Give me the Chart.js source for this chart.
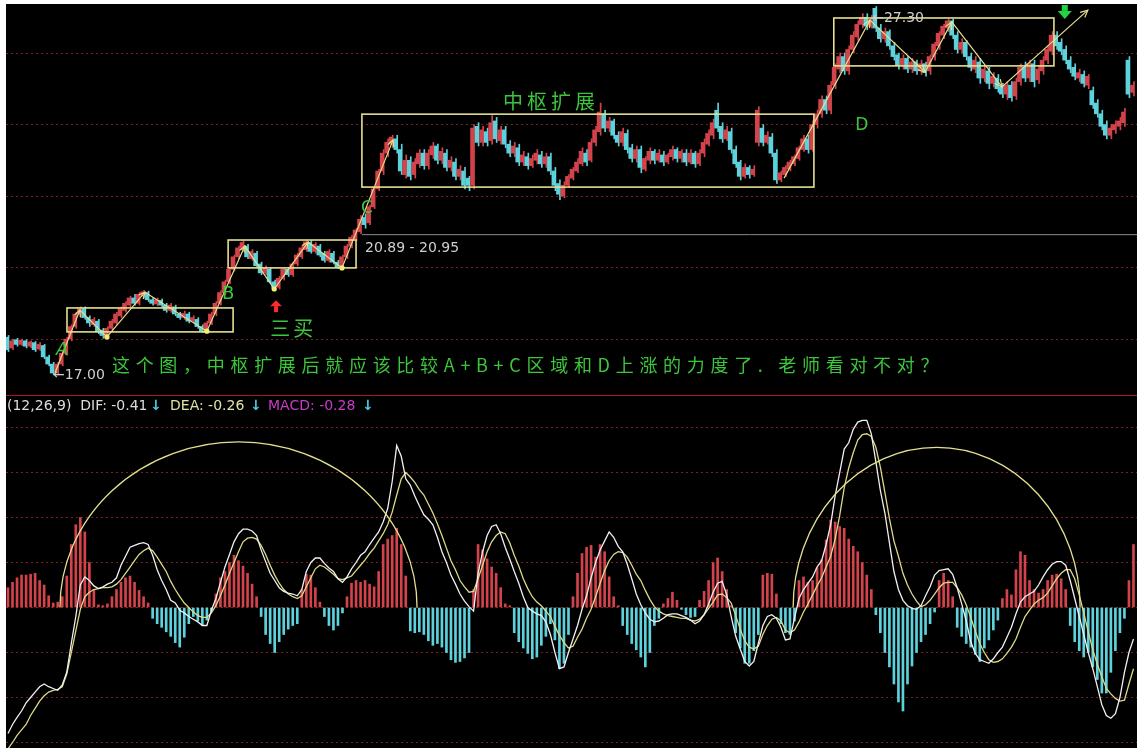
<!DOCTYPE html>
<html>
<head>
<meta charset="utf-8">
<script src="https://cdn.jsdelivr.net/npm/chart.js@4.4.0/dist/chart.umd.min.js"></script>
<style>
  html, body { margin: 0; padding: 0; background: #fff; }
  #frame { position: absolute; left: 6px; top: 4px; width: 1131px; height: 744px; background: #000; overflow: hidden; }
  #priceChart { position: absolute; left: 0; top: 0; }
  #sep { position: absolute; left: 0; top: 391px; width: 1131px; height: 1px; background: #a8142a; }
  #macdChart { position: absolute; left: 0; top: 393px; }
</style>
</head>
<body>
<div id="frame">
  <canvas id="priceChart" width="1131" height="391"></canvas>
  <div id="sep"></div>
  <canvas id="macdChart" width="1131" height="351"></canvas>
</div>
<script>
// --- data (one entry per trading day) ---
const candleOpen = [
  18.05, 17.75, 17.98, 17.85, 17.95, 17.8, 17.9, 17.72, 17.82, 17.5,
  17.3, 17.08, 17.3, 17.6, 18.0, 18.35, 18.7, 18.85, 18.6, 18.4,
  18.5, 18.25, 18.05, 18.3, 18.45, 18.65, 18.8, 18.95, 19.15, 19.0,
  19.2, 19.3, 19.1, 18.98, 19.08, 18.95, 18.8, 18.9, 18.7, 18.6,
  18.7, 18.5, 18.55, 18.35, 18.22, 18.45, 18.7, 19.0, 19.3, 19.6,
  19.95, 20.3, 20.5, 20.6, 20.25, 20.4, 20.1, 19.85, 19.95, 19.6,
  19.45, 19.7, 19.95, 19.8, 20.1, 20.3, 20.5, 20.7, 20.45, 20.6,
  20.4, 20.2, 20.4, 20.15, 20.0, 20.3, 20.6, 20.8, 21.0, 21.4,
  21.25, 21.7, 22.2, 22.7, 23.2, 23.45, 23.6, 23.3, 22.6, 23.0,
  22.6, 22.9, 23.2, 22.85, 23.15, 23.4, 23.0, 23.2, 22.8, 22.95,
  22.55, 22.7, 22.5, 22.3, 23.95, 23.5, 23.8, 23.55, 24.1, 23.55,
  23.85, 23.45, 23.2, 23.35, 22.95, 23.1, 22.85, 23.0, 23.15, 22.9,
  23.1, 22.7, 22.35, 22.0, 22.3, 22.5, 22.7, 22.9, 23.2, 23.0,
  23.5, 23.8, 24.3, 23.9, 24.1, 23.7, 23.5, 23.75, 23.35, 23.05,
  23.3, 22.75, 23.0, 23.25, 23.0, 23.15, 22.95, 23.1, 23.3, 23.05,
  23.2, 22.95, 23.2, 22.9, 23.2, 23.45, 23.7, 24.4, 23.95, 23.6,
  23.8, 23.3, 22.95, 22.55, 22.8, 22.6, 23.5, 23.9, 23.5, 23.65,
  23.2, 22.45, 22.6, 22.75, 22.9, 23.05, 23.3, 23.6, 23.3, 24.0,
  24.3, 24.7, 24.4, 25.1, 25.55, 25.9, 25.5, 26.1, 26.45, 26.8,
  27.0, 26.75, 27.25, 26.7, 26.4, 26.6, 26.2, 25.95, 25.65, 25.85,
  25.55, 25.75, 25.5, 25.7, 25.5, 25.9, 26.2, 26.5, 26.7, 26.9,
  26.5, 26.1, 26.3, 25.9, 25.55, 25.75, 25.3, 25.5, 25.15, 25.3,
  25.05, 24.85, 25.1, 24.8, 25.2, 25.6, 25.3, 25.7, 25.25, 25.5,
  25.8, 26.05, 26.5, 26.3, 26.1, 25.8, 25.6, 25.3, 25.4, 25.1,
  24.95, 24.6, 24.3, 24.0, 23.7, 23.85, 23.95, 24.05, 25.8, 24.9
];
const candleClose = [
  17.7, 17.95, 17.85, 17.97, 17.8, 17.92, 17.7, 17.85, 17.5, 17.3,
  17.05, 17.3, 17.6, 18.0, 18.35, 18.7, 18.85, 18.6, 18.45, 18.55,
  18.2, 18.1, 18.3, 18.5, 18.7, 18.85, 19.0, 19.15, 19.0, 19.25,
  19.32, 19.1, 19.0, 19.1, 18.95, 18.8, 18.95, 18.7, 18.6, 18.72,
  18.5, 18.6, 18.35, 18.22, 18.45, 18.7, 19.0, 19.3, 19.6, 19.95,
  20.3, 20.55, 20.7, 20.3, 20.45, 20.05, 19.85, 20.0, 19.6, 19.42,
  19.7, 19.95, 19.8, 20.1, 20.35, 20.55, 20.72, 20.45, 20.65, 20.35,
  20.2, 20.45, 20.15, 20.0, 20.3, 20.6, 20.85, 21.05, 21.35, 21.2,
  21.7, 22.2, 22.7, 23.2, 23.5, 23.65, 23.3, 22.7, 23.0, 22.55,
  22.95, 23.2, 22.85, 23.2, 23.4, 23.0, 23.25, 22.8, 23.0, 22.55,
  22.75, 22.3, 22.3, 23.9, 23.5, 23.85, 23.5, 24.05, 23.6, 23.85,
  23.45, 23.2, 23.4, 22.95, 23.15, 22.85, 23.05, 23.2, 22.9, 23.1,
  22.7, 22.3, 22.05, 22.3, 22.55, 22.75, 22.95, 23.25, 22.95, 23.5,
  23.85, 24.35, 23.9, 24.1, 23.7, 23.5, 23.8, 23.3, 23.05, 23.3,
  22.8, 23.05, 23.25, 23.0, 23.2, 22.95, 23.15, 23.3, 23.05, 23.25,
  22.95, 23.2, 22.9, 23.2, 23.5, 23.75, 24.05, 23.9, 23.6, 23.85,
  23.3, 22.9, 22.55, 22.8, 22.6, 22.75, 24.4, 23.5, 23.7, 23.2,
  22.45, 22.65, 22.8, 22.95, 23.1, 23.35, 23.6, 23.3, 24.0, 24.3,
  24.7, 24.4, 25.1, 25.6, 25.9, 25.5, 26.1, 26.5, 26.8, 27.0,
  26.75, 26.95, 26.7, 26.4, 26.6, 26.2, 25.9, 25.65, 25.85, 25.55,
  25.75, 25.5, 25.7, 25.45, 25.9, 26.25, 26.55, 26.75, 26.9, 26.5,
  26.1, 26.3, 25.9, 25.6, 25.8, 25.3, 25.55, 25.15, 25.35, 25.0,
  24.85, 25.1, 24.75, 25.2, 25.6, 25.3, 25.7, 25.2, 25.55, 25.8,
  26.1, 26.5, 26.2, 26.05, 25.8, 25.55, 25.35, 25.45, 25.15, 25.35,
  24.55, 24.3, 23.95, 23.7, 23.9, 24.0, 24.1, 24.35, 24.85, 25.1
];
const candleHigh = [
  18.1, 18.0, 18.02, 18.0, 17.98, 17.95, 17.93, 17.9, 17.85, 17.55,
  17.35, 17.35, 17.65, 18.05, 18.4, 18.75, 18.9, 18.9, 18.65, 18.6,
  18.55, 18.3, 18.35, 18.55, 18.75, 18.9, 19.05, 19.2, 19.25, 19.3,
  19.36, 19.34, 19.15, 19.15, 19.12, 19.0, 19.0, 18.95, 18.75, 18.78,
  18.75, 18.65, 18.6, 18.4, 18.5, 18.75, 19.05, 19.35, 19.65, 20.0,
  20.35, 20.6, 20.75, 20.65, 20.5, 20.45, 20.15, 20.05, 20.0, 19.65,
  19.75, 20.0, 20.0, 20.15, 20.4, 20.6, 20.76, 20.75, 20.7, 20.65,
  20.45, 20.5, 20.45, 20.2, 20.35, 20.65, 20.9, 21.1, 21.45, 21.5,
  21.75, 22.25, 22.75, 23.3, 23.6, 23.7, 23.7, 23.45, 23.15, 23.1,
  23.05, 23.3, 23.3, 23.3, 23.5, 23.45, 23.35, 23.3, 23.1, 23.05,
  22.85, 22.8, 22.55, 24.0, 24.05, 23.95, 23.9, 24.25, 24.2, 23.95,
  23.95, 23.55, 23.5, 23.45, 23.25, 23.2, 23.15, 23.3, 23.25, 23.2,
  23.2, 22.8, 22.45, 22.4, 22.6, 22.8, 23.05, 23.35, 23.3, 23.6,
  23.95, 24.6, 24.4, 24.2, 24.15, 23.8, 23.9, 23.85, 23.45, 23.4,
  23.4, 23.1, 23.35, 23.3, 23.3, 23.25, 23.2, 23.4, 23.35, 23.3,
  23.3, 23.3, 23.25, 23.3, 23.6, 23.85, 24.15, 24.6, 24.05, 23.95,
  23.9, 23.4, 23.0, 22.9, 22.85, 22.85, 24.5, 24.0, 23.8, 23.75,
  23.3, 22.7, 22.85, 23.0, 23.15, 23.4, 23.7, 23.7, 24.1, 24.4,
  24.8, 24.8, 25.2, 25.7, 26.0, 26.0, 26.2, 26.6, 26.9, 27.1,
  27.1, 27.05, 27.3, 26.8, 26.7, 26.65, 26.3, 26.0, 25.95, 25.9,
  25.85, 25.8, 25.8, 25.75, 25.95, 26.3, 26.6, 26.8, 26.95, 26.95,
  26.6, 26.4, 26.35, 26.0, 25.9, 25.85, 25.65, 25.6, 25.45, 25.4,
  25.15, 25.2, 25.2, 25.3, 25.7, 25.75, 25.8, 25.8, 25.65, 25.9,
  26.2, 26.6, 26.6, 26.4, 26.2, 25.9, 25.7, 25.55, 25.5, 25.4,
  25.05, 24.7, 24.4, 24.1, 24.0, 24.1, 24.2, 24.45, 25.9, 25.2
];
const candleLow = [
  17.65, 17.7, 17.8, 17.82, 17.75, 17.76, 17.65, 17.68, 17.45, 17.25,
  17.0, 17.0, 17.25, 17.55, 17.95, 18.3, 18.6, 18.55, 18.35, 18.35,
  18.15, 18.02, 18.0, 18.25, 18.4, 18.6, 18.75, 18.9, 18.95, 18.95,
  19.15, 19.05, 18.95, 18.93, 18.9, 18.75, 18.75, 18.65, 18.55, 18.55,
  18.45, 18.45, 18.3, 18.18, 18.18, 18.4, 18.65, 18.95, 19.25, 19.55,
  19.9, 20.25, 20.45, 20.25, 20.2, 20.0, 19.8, 19.8, 19.55, 19.38,
  19.4, 19.65, 19.75, 19.75, 20.05, 20.25, 20.45, 20.4, 20.4, 20.3,
  20.15, 20.15, 20.1, 19.97, 19.97, 20.25, 20.55, 20.75, 20.95, 21.1,
  21.2, 21.65, 22.15, 22.6, 23.1, 23.35, 23.2, 22.6, 22.5, 22.45,
  22.5, 22.8, 22.75, 22.75, 23.05, 22.9, 22.9, 22.7, 22.7, 22.45,
  22.45, 22.2, 22.15, 22.2, 23.4, 23.4, 23.4, 23.45, 23.5, 23.45,
  23.35, 23.1, 23.1, 22.85, 22.85, 22.75, 22.8, 22.9, 22.8, 22.8,
  22.6, 22.15, 21.9, 21.95, 22.25, 22.45, 22.65, 22.85, 22.85, 22.95,
  23.4, 23.7, 23.8, 23.8, 23.6, 23.4, 23.4, 23.2, 22.95, 22.95,
  22.65, 22.7, 22.9, 22.9, 22.95, 22.85, 22.9, 23.0, 22.95, 22.95,
  22.85, 22.9, 22.8, 22.85, 23.1, 23.4, 23.6, 23.8, 23.5, 23.55,
  23.2, 22.8, 22.45, 22.5, 22.5, 22.55, 23.4, 23.4, 23.45, 23.1,
  22.35, 22.4, 22.55, 22.7, 22.85, 23.0, 23.25, 23.2, 23.25, 23.9,
  24.2, 24.3, 24.3, 25.0, 25.45, 25.4, 25.4, 26.0, 26.35, 26.7,
  26.65, 26.7, 26.6, 26.3, 26.3, 26.1, 25.8, 25.55, 25.55, 25.45,
  25.45, 25.4, 25.4, 25.35, 25.4, 25.8, 26.1, 26.4, 26.6, 26.4,
  26.0, 26.0, 25.8, 25.5, 25.45, 25.15, 25.2, 25.0, 25.05, 24.9,
  24.75, 24.7, 24.65, 24.7, 25.1, 25.2, 25.2, 25.05, 25.15, 25.4,
  25.7, 25.95, 26.1, 25.95, 25.7, 25.45, 25.25, 25.2, 25.05, 25.0,
  24.45, 24.2, 23.85, 23.6, 23.6, 23.75, 23.85, 23.95, 24.75, 24.8
];
const macdHist = [
  0.22, 0.28, 0.33, 0.36, 0.36, 0.37, 0.38, 0.3, 0.25, 0.13,
  0.05, 0.06, 0.12, 0.35, 0.7, 0.92, 1.0, 0.84, 0.5, 0.2,
  0.03, 0.02, 0.04, 0.12, 0.2, 0.28, 0.33, 0.35, 0.28, 0.19,
  0.12, 0.05, -0.12, -0.18, -0.22, -0.27, -0.32, -0.39, -0.44, -0.33,
  -0.18, -0.1, -0.15, -0.2, -0.14, -0.04, 0.15, 0.33, 0.4, 0.5,
  0.58, 0.52, 0.46, 0.38, 0.26, 0.12, -0.1, -0.3, -0.4, -0.5,
  -0.38, -0.3, -0.24, -0.2, -0.18, 0.2, 0.37, 0.36, 0.22, 0.06,
  -0.1, -0.2, -0.25, -0.2, -0.06, 0.12, 0.27, 0.3, 0.28, 0.3,
  0.26, 0.23, 0.4, 0.7, 0.76, 0.8, 0.88, 0.7, 0.35, -0.26,
  -0.28, -0.27, -0.3, -0.37, -0.42, -0.4, -0.44, -0.5, -0.58, -0.61,
  -0.6, -0.56, -0.5, 0.2, 0.7, 0.64, 0.54, 0.45, 0.38, 0.22,
  0.04, 0.02, -0.28, -0.38, -0.45, -0.51, -0.57, -0.55, -0.42, -0.32,
  -0.18, -0.36, -0.68, -0.62, -0.3, 0.12, 0.38, 0.6, 0.67, 0.69,
  0.56, 0.7, 0.62, 0.34, 0.12, 0.02, -0.2, -0.3, -0.4, -0.47,
  -0.55, -0.66, -0.5, -0.2, -0.12, 0.04, 0.1, 0.17, 0.08, -0.02,
  -0.08, -0.11, -0.1, 0.08, 0.18, 0.3, 0.5, 0.55, 0.4, 0.2,
  0.02, -0.28, -0.45, -0.62, -0.62, -0.48, -0.3, 0.36, 0.38, 0.37,
  0.15, -0.18, -0.28, -0.3, -0.15, 0.3, 0.34, 0.28, 0.3, 0.44,
  0.53, 0.75, 0.97, 0.95, 0.9, 0.88, 0.76, 0.68, 0.62, 0.5,
  0.36, 0.2, -0.08, -0.28, -0.5, -0.66, -0.85, -1.05, -1.15, -0.85,
  -0.65, -0.5, -0.38, -0.3, -0.18, -0.05, 0.3, 0.38, 0.3, 0.12,
  -0.22, -0.32, -0.4, -0.44, -0.52, -0.6, -0.45, -0.36, -0.25, -0.14,
  0.1, 0.2, 0.14, 0.42, 0.62, 0.58, 0.3, 0.2, 0.16, 0.2,
  0.3, 0.36, 0.37, 0.32, 0.2, -0.2, -0.38, -0.48, -0.55, -0.5,
  -0.66, -0.8, -0.95, -0.95, -0.72, -0.48, -0.28, -0.12, 0.3, 0.7
];
const difLine = [
  -1.4, -1.3, -1.22, -1.15, -1.06, -1.0, -0.94, -0.88, -0.85, -0.88,
  -0.9, -0.92, -0.86, -0.72, -0.4, -0.1, 0.25, 0.34, 0.3, 0.24,
  0.21, 0.23, 0.26, 0.28, 0.33, 0.47, 0.57, 0.67, 0.69, 0.71,
  0.72, 0.7, 0.58, 0.42, 0.3, 0.2, 0.08, 0.05, -0.03, -0.06,
  -0.1, -0.13, -0.16, -0.2, -0.2, -0.03, 0.1, 0.28, 0.45, 0.59,
  0.73, 0.82, 0.87, 0.87, 0.85, 0.8, 0.64, 0.51, 0.38, 0.3,
  0.22, 0.18, 0.16, 0.15, 0.13, 0.2, 0.4, 0.5, 0.55, 0.55,
  0.49, 0.44, 0.4, 0.32, 0.28, 0.34, 0.43, 0.5, 0.58, 0.62,
  0.7, 0.77, 0.84, 0.95, 1.1, 1.4, 1.8, 1.68, 1.43, 1.36,
  1.24, 1.13, 1.03, 0.98, 0.92, 0.78, 0.62, 0.5, 0.36, 0.26,
  0.15, 0.07, 0.01, -0.04, 0.38, 0.62, 0.8, 0.9, 0.92, 0.82,
  0.67, 0.54, 0.4, 0.27, 0.12, 0.0, -0.04, -0.07, -0.09, -0.16,
  -0.3, -0.5, -0.68, -0.66, -0.5, -0.35, -0.2, -0.02, 0.13, 0.33,
  0.5, 0.64, 0.74, 0.84, 0.78, 0.68, 0.62, 0.48, 0.32, 0.15,
  0.03, -0.06, -0.13, -0.16, -0.15, -0.12, -0.08, -0.07, -0.07, -0.09,
  -0.11, -0.14, -0.18, -0.15, -0.08, 0.04, 0.17, 0.27, 0.29, 0.14,
  -0.1, -0.32, -0.46, -0.6, -0.65, -0.6, -0.4, -0.2, -0.1, -0.08,
  -0.12, -0.22, -0.36, -0.35, -0.12, 0.1, 0.2, 0.27, 0.34, 0.45,
  0.52, 0.7, 0.92, 1.24, 1.5, 1.76, 1.83, 1.98, 2.06, 2.08,
  2.08, 1.93, 1.62, 1.3, 1.05, 0.72, 0.4, 0.2, 0.08, 0.02,
  -0.01, -0.02, 0.02, 0.13, 0.23, 0.36, 0.41, 0.42, 0.43, 0.37,
  0.22, 0.04, -0.15, -0.38, -0.51, -0.58, -0.6, -0.62, -0.57, -0.5,
  -0.44, -0.33, -0.22, -0.07, 0.06, 0.12, 0.15, 0.18, 0.25, 0.34,
  0.42, 0.48, 0.51, 0.51, 0.47, 0.3, 0.1, -0.1, -0.3, -0.5,
  -0.68, -0.88, -1.08, -1.2, -1.23, -1.18, -1.0, -0.72, -0.5, -0.35
];
const deaLine = [
  -1.57, -1.5, -1.42, -1.36, -1.3, -1.2, -1.12, -1.04, -0.98, -0.94,
  -0.92, -0.91, -0.88, -0.74, -0.5, -0.26, -0.02, 0.12, 0.17, 0.2,
  0.21, 0.22, 0.22, 0.23, 0.26, 0.31, 0.38, 0.45, 0.52, 0.59,
  0.63, 0.66, 0.63, 0.56, 0.48, 0.4, 0.29, 0.2, 0.12, 0.05,
  0.0, -0.05, -0.09, -0.11, -0.11, -0.06, 0.02, 0.13, 0.25, 0.38,
  0.5, 0.62, 0.73, 0.77, 0.78, 0.76, 0.69, 0.59, 0.47, 0.36,
  0.27, 0.2, 0.15, 0.12, 0.1, 0.13, 0.23, 0.33, 0.43, 0.47,
  0.45, 0.41, 0.37, 0.32, 0.31, 0.33, 0.35, 0.41, 0.47, 0.53,
  0.6, 0.66, 0.74, 0.82, 0.92, 1.06, 1.25, 1.43, 1.5, 1.45,
  1.39, 1.31, 1.25, 1.15, 1.05, 0.93, 0.8, 0.66, 0.52, 0.42,
  0.3, 0.23, 0.17, 0.18, 0.32, 0.47, 0.62, 0.73, 0.8, 0.84,
  0.82, 0.72, 0.58, 0.46, 0.32, 0.21, 0.12, 0.06, 0.02, -0.04,
  -0.1, -0.21, -0.31, -0.39, -0.45, -0.43, -0.33, -0.24, -0.12, -0.02,
  0.12, 0.27, 0.41, 0.52, 0.59, 0.62, 0.61, 0.56, 0.47, 0.37,
  0.3, 0.19, 0.09, 0.01, -0.04, -0.07, -0.09, -0.1, -0.11, -0.12,
  -0.12, -0.14, -0.15, -0.13, -0.08, -0.01, 0.06, 0.14, 0.15, 0.11,
  0.05, -0.09, -0.24, -0.37, -0.44, -0.46, -0.43, -0.3, -0.2, -0.13,
  -0.11, -0.15, -0.25, -0.28, -0.25, -0.16, -0.05, 0.04, 0.14, 0.24,
  0.33, 0.45, 0.57, 0.76, 1.02, 1.33, 1.55, 1.72, 1.86, 1.92,
  1.93, 1.9, 1.78, 1.56, 1.28, 0.99, 0.74, 0.57, 0.38, 0.25,
  0.15, 0.07, 0.01, 0.03, 0.08, 0.15, 0.22, 0.27, 0.28, 0.28,
  0.22, 0.14, 0.03, -0.11, -0.26, -0.4, -0.5, -0.58, -0.61, -0.6,
  -0.57, -0.51, -0.44, -0.35, -0.22, -0.1, -0.03, 0.04, 0.08, 0.11,
  0.16, 0.24, 0.32, 0.38, 0.42, 0.42, 0.32, 0.14, -0.06, -0.27,
  -0.47, -0.63, -0.77, -0.9, -0.96, -1.01, -1.04, -1.03, -0.85, -0.68
];
const priceGrid = [18, 20, 22, 24, 26];
const macdGrid = [-1.5, -1, -0.5, 0, 0.5, 1, 1.5, 2];

// hand-drawn marks on the picture, in (day, price) / (day, macd) terms
const zhongshuBoxes = [[13.05, 49.8, 18.2, 18.87], [48.7, 77.0, 19.99, 20.77], [78.3, 178.3, 22.25, 24.29], [182.7, 231.4, 25.64, 26.98]];
const strokesABC = [[10.4, 17.06], [15.9, 18.81], [21.9, 18.06], [30.3, 19.31], [44.0, 18.22], [52.4, 20.6], [58.9, 19.4], [66.4, 20.71], [73.9, 19.99], [85.2, 23.57]];
const strokesD = [[171.7, 22.5], [190.7, 26.92], [202.9, 25.47], [208.8, 26.87], [219.9, 25.05], [238.9, 27.2]];
const thirdBuyLevel = 20.92;
const macdArcs = [[11.5, 90.5, 1.84], [173.7, 237.2, 1.78]];

const UP_RED = '#d4434b';
const DOWN_CYAN = '#5ed2dc';
const GRID_RED = '#7e2020';
const PALE_YELLOW = '#e4e090';
const GREEN = '#3cc63c';
const NOTE_GRAY = '#cfcfcf';
const CJK = '"Noto Sans CJK SC", "Noto Sans", sans-serif';
const NUM = '"DejaVu Sans", sans-serif';

Chart.defaults.animation = false;
Chart.defaults.font.family = NUM;

const candleColors = candleOpen.map((o, i) => candleClose[i] >= o ? UP_RED : DOWN_CYAN);

function arrowHead(ctx, x0, y0, x1, y1, len) {
  const a = Math.atan2(y1 - y0, x1 - x0);
  ctx.beginPath();
  ctx.moveTo(x1 - len * Math.cos(a - 0.45), y1 - len * Math.sin(a - 0.45));
  ctx.lineTo(x1, y1);
  ctx.lineTo(x1 - len * Math.cos(a + 0.45), y1 - len * Math.sin(a + 0.45));
  ctx.stroke();
}

function note(ctx, text, x, y, font, color, spacing, align) {
  ctx.save();
  ctx.font = font;
  ctx.fillStyle = color;
  ctx.textBaseline = 'middle';
  ctx.textAlign = align || 'left';
  ctx.letterSpacing = (spacing || 0) + 'px';
  ctx.fillText(text, x, y);
  ctx.restore();
}

const priceNotes = {
  id: 'priceNotes',
  afterDatasetsDraw(chart) {
    const { ctx, scales: { x, y } } = chart;
    const px = v => x.getPixelForValue(v);
    const py = v => y.getPixelForValue(v);
    ctx.save();
    // zhongshu boxes
    ctx.strokeStyle = PALE_YELLOW;
    ctx.lineWidth = 1.6;
    zhongshuBoxes.forEach(([a, b, lo, hi]) => {
      ctx.strokeRect(px(a), py(hi), px(b) - px(a), py(lo) - py(hi));
    });
    // arrow heads / dots on the strokes
    ctx.lineWidth = 1.2;
    ctx.fillStyle = '#f4ee70';
    strokesABC.forEach((p, i) => {
      if (i === 0) return;
      const q = strokesABC[i - 1];
      if (p[1] > q[1]) arrowHead(ctx, px(q[0]), py(q[1]), px(p[0]), py(p[1]), 7);
      else {
        ctx.beginPath();
        ctx.arc(px(p[0]), py(p[1]), 2.6, 0, Math.PI * 2);
        ctx.fill();
      }
    });
    strokesD.forEach((p, i) => {
      if (i === 0) return;
      const q = strokesD[i - 1];
      arrowHead(ctx, px(q[0]), py(q[1]), px(p[0]), py(p[1]), 8);
    });
    ctx.restore();

    // labels
    note(ctx, 'A', px(10.6), py(17.69), 'italic 18px ' + NUM, GREEN);
    note(ctx, 'B', px(48.7), py(19.26), '18px ' + NUM, GREEN, 0, 'center');
    note(ctx, 'C', px(79.4), py(21.66), '17px ' + NUM, GREEN, 0, 'center');
    note(ctx, 'D', px(188.9), py(23.96), '17px ' + NUM, GREEN, 0, 'center');
    note(ctx, '中枢扩展', px(109.5), py(24.66), '20px ' + CJK, GREEN, 4);
    note(ctx, '三买', px(58.0), py(18.31), '20px ' + CJK, GREEN, 3);
    note(ctx, '这个图，中枢扩展后就应该比较A+B+C区域和D上涨的力度了. 老师看对不对？',
      px(23.0), py(17.27), '18px ' + CJK, GREEN, 5.7);
    note(ctx, '←17.00', px(9.96), py(16.99), '14px ' + NUM, NOTE_GRAY);
    note(ctx, '←27.30', px(191.2), py(26.98), '14px ' + NUM, NOTE_GRAY);
    note(ctx, '20.89 - 20.95', px(79.0), py(20.55), '14px ' + NUM, NOTE_GRAY);

    // red up arrow under the third buy
    ctx.save();
    let cx = px(59.3), cy = py(18.92);
    ctx.fillStyle = '#ff2a2a';
    ctx.beginPath();
    ctx.moveTo(cx, cy - 6); ctx.lineTo(cx + 6, cy); ctx.lineTo(cx - 6, cy); ctx.closePath();
    ctx.fill();
    ctx.fillRect(cx - 2, cy, 4, 6);
    // green down arrow at the top right
    cx = px(233.8); cy = py(27.15);
    ctx.fillStyle = '#22d444';
    ctx.fillRect(cx - 3, cy - 7, 6, 6);
    ctx.beginPath();
    ctx.moveTo(cx - 7, cy - 1); ctx.lineTo(cx + 7, cy - 1); ctx.lineTo(cx, cy + 7); ctx.closePath();
    ctx.fill();
    ctx.restore();
  }
};

const macdNotes = {
  id: 'macdNotes',
  afterDatasetsDraw(chart) {
    const { ctx, scales: { x, y } } = chart;
    ctx.save();
    ctx.strokeStyle = PALE_YELLOW;
    ctx.lineWidth = 1.3;
    macdArcs.forEach(([a, b, top]) => {
      const x0 = x.getPixelForValue(a), x1 = x.getPixelForValue(b);
      const base = y.getPixelForValue(0);
      ctx.beginPath();
      ctx.ellipse((x0 + x1) / 2, base, (x1 - x0) / 2, base - y.getPixelForValue(top), 0, Math.PI, Math.PI * 2);
      ctx.stroke();
    });
    ctx.restore();
    const f = '14px ' + NUM;
    note(ctx, '(12,26,9)  DIF: -0.41', 1, 9, f, '#dcdcdc');
    note(ctx, '↓', 144, 9, 'bold 14px ' + NUM, '#4cc8e0');
    note(ctx, 'DEA: -0.26', 164, 9, f, '#e2e2a4');
    note(ctx, '↓', 244, 9, 'bold 14px ' + NUM, '#4cc8e0');
    note(ctx, 'MACD: -0.28', 262, 9, f, '#c83cc8');
    note(ctx, '↓', 356, 9, 'bold 14px ' + NUM, '#4cc8e0');
  }
};

function hiddenX() {
  return { type: 'linear', min: -0.4425, max: 249.78, offset: false, display: false };
}
function gridY(min, max, ticks) {
  return {
    min, max,
    afterBuildTicks: s => { s.ticks = ticks.map(v => ({ value: v })); },
    afterFit: s => { s.width = 0; },
    ticks: { display: false },
    grid: { color: GRID_RED, lineWidth: 1, drawTicks: false },
    border: { display: false, dash: [2, 3] }
  };
}
const quietPlugins = { legend: { display: false }, tooltip: { enabled: false } };

new Chart(document.getElementById('priceChart'), {
  type: 'bar',
  data: {
    datasets: [
      {
        type: 'line', order: 0,
        data: strokesABC.map(([d, p]) => ({ x: d, y: p })),
        borderColor: PALE_YELLOW, borderWidth: 1.2, pointRadius: 0
      },
      {
        type: 'line', order: 0,
        data: strokesD.map(([d, p]) => ({ x: d, y: p })),
        borderColor: PALE_YELLOW, borderWidth: 1.2, pointRadius: 0
      },
      {
        type: 'line', order: 1,
        data: [{ x: 78.3, y: thirdBuyLevel }, { x: 249.78, y: thirdBuyLevel }],
        borderColor: '#8a8a8a', borderWidth: 1, pointRadius: 0
      },
      {
        // candle bodies
        type: 'bar', order: 2,
        data: candleOpen.map((o, i) => ({ x: i, y: [o, candleClose[i]] })),
        backgroundColor: candleColors,
        barThickness: 3, borderWidth: 0
      },
      {
        // high-low wicks
        type: 'bar', order: 3,
        data: candleLow.map((l, i) => ({ x: i, y: [l, candleHigh[i]] })),
        backgroundColor: candleColors,
        barThickness: 1, borderWidth: 0
      }
    ]
  },
  options: {
    responsive: false,
    layout: { padding: 0 },
    plugins: quietPlugins,
    scales: { x: hiddenX(), y: gridY(16.435, 27.371, priceGrid) }
  },
  plugins: [priceNotes]
});

new Chart(document.getElementById('macdChart'), {
  type: 'bar',
  data: {
    datasets: [
      {
        type: 'line', order: 0,
        data: difLine.map((v, i) => ({ x: i, y: v })),
        borderColor: '#f0f0f0', borderWidth: 1.3, pointRadius: 0
      },
      {
        type: 'line', order: 1,
        data: deaLine.map((v, i) => ({ x: i, y: v })),
        borderColor: '#ddd987', borderWidth: 1.3, pointRadius: 0
      },
      {
        type: 'bar', order: 2,
        data: macdHist.map((v, i) => ({ x: i, y: v })),
        backgroundColor: macdHist.map(v => v >= 0 ? UP_RED : DOWN_CYAN),
        barThickness: 2, borderWidth: 0
      }
    ]
  },
  options: {
    responsive: false,
    layout: { padding: 0 },
    plugins: quietPlugins,
    scales: { x: hiddenX(), y: gridY(-1.561, 2.339, macdGrid) }
  },
  plugins: [macdNotes]
});
</script>
</body>
</html>
